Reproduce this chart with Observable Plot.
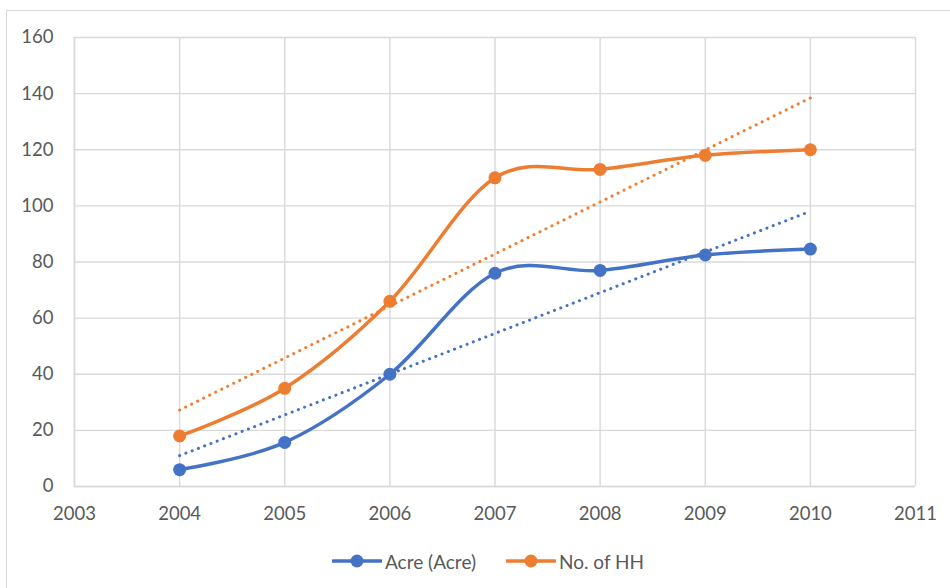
<!DOCTYPE html>
<html>
<head>
<meta charset="utf-8">
<script src="https://cdn.jsdelivr.net/npm/d3@7"></script>
<script src="https://cdn.jsdelivr.net/npm/@observablehq/plot@0.6"></script>
<style>
  html, body { margin: 0; padding: 0; background: #fff; width: 950px; height: 588px; overflow: hidden; }
  #frame { position: absolute; left: 6px; top: 10px; width: 1000px; height: 700px; border-left: 1.5px solid #d9d9d9; border-top: 1.5px solid #d9d9d9; }
  #chart { position: absolute; left: 0; top: 0; }
  #legend { position: absolute; left: 0; top: 548px; width: 950px; font-family: Lato, "Open Sans", sans-serif; font-size: 19px; color: #595959; }
  .item { position: absolute; display: flex; align-items: center; height: 26px; }
  .item svg { margin-right: 3px; }
</style>
</head>
<body>
<div id="frame"></div>
<div id="chart"></div>
<div id="legend"></div>
<script>
const years = [2004, 2005, 2006, 2007, 2008, 2009, 2010];
const acre = [6, 15.7, 40, 76, 77, 82.5, 84.6];
const households = [18, 35, 66, 110, 113, 118, 120];
const seriesNames = ["Acre (Acre)", "No. of HH"];
const seriesColors = ["#4472C4", "#ED7D31"];
const xTicks = [2003, 2004, 2005, 2006, 2007, 2008, 2009, 2010, 2011];
const yTicks = [0, 20, 40, 60, 80, 100, 120, 140, 160];

const data = [];
years.forEach((yr, i) => {
  data.push({year: yr, value: acre[i], series: seriesNames[0]});
  data.push({year: yr, value: households[i], series: seriesNames[1]});
});

const grid = "#d9d9d9";
const plot = Plot.plot({
  width: 950,
  height: 535,
  marginLeft: 74,
  marginRight: 35,
  marginTop: 37,
  marginBottom: 49,
  style: {fontFamily: "Lato, 'Open Sans', sans-serif", fontSize: "18.5px", background: "transparent"},
  x: {domain: [2003, 2011], ticks: xTicks, tickFormat: d => String(d), label: null},
  y: {domain: [0, 160], ticks: yTicks, label: null},
  color: {domain: seriesNames, range: seriesColors},
  marks: [
    Plot.gridX(xTicks, {stroke: grid, strokeOpacity: 1, strokeWidth: 1.4}),
    Plot.gridY(yTicks, {stroke: grid, strokeOpacity: 1, strokeWidth: 1.4}),
    Plot.ruleY([0], {stroke: grid, strokeWidth: 1.6}),
    Plot.ruleX([2003], {stroke: grid, strokeWidth: 1.6}),
    Plot.axisX({ticks: xTicks, tickFormat: d => String(d), tickSize: 0, tickPadding: 20, fill: "#595959", fontSize: 18.5, label: null}),
    Plot.axisY({ticks: yTicks, tickSize: 0, tickPadding: 21, fill: "#595959", fontSize: 18.5, label: null}),
    Plot.line(data, {x: "year", y: "value", z: "series", stroke: "series", strokeWidth: 3.5, curve: "cardinal", tension: 0}),
    Plot.dot(data, {x: "year", y: "value", fill: "series", r: 6.5}),
    Plot.linearRegressionY(data, {x: "year", y: "value", z: "series", stroke: "series", ci: 0, strokeWidth: 3, strokeDasharray: "0.1 6.6", strokeLinecap: "round"})
  ]
});
document.getElementById("chart").appendChild(plot);

const legend = document.getElementById("legend");
const positions = [332, 506];
seriesNames.forEach((name, i) => {
  const div = document.createElement("div");
  div.className = "item";
  div.style.left = positions[i] + "px";
  div.innerHTML = `<svg width="50" height="26"><line x1="1" y1="13" x2="49" y2="13" stroke="${seriesColors[i]}" stroke-width="3.5" stroke-linecap="round"/><circle cx="25" cy="13" r="6.5" fill="${seriesColors[i]}"/></svg><span>${name}</span>`;
  legend.appendChild(div);
});
</script>
</body>
</html>
